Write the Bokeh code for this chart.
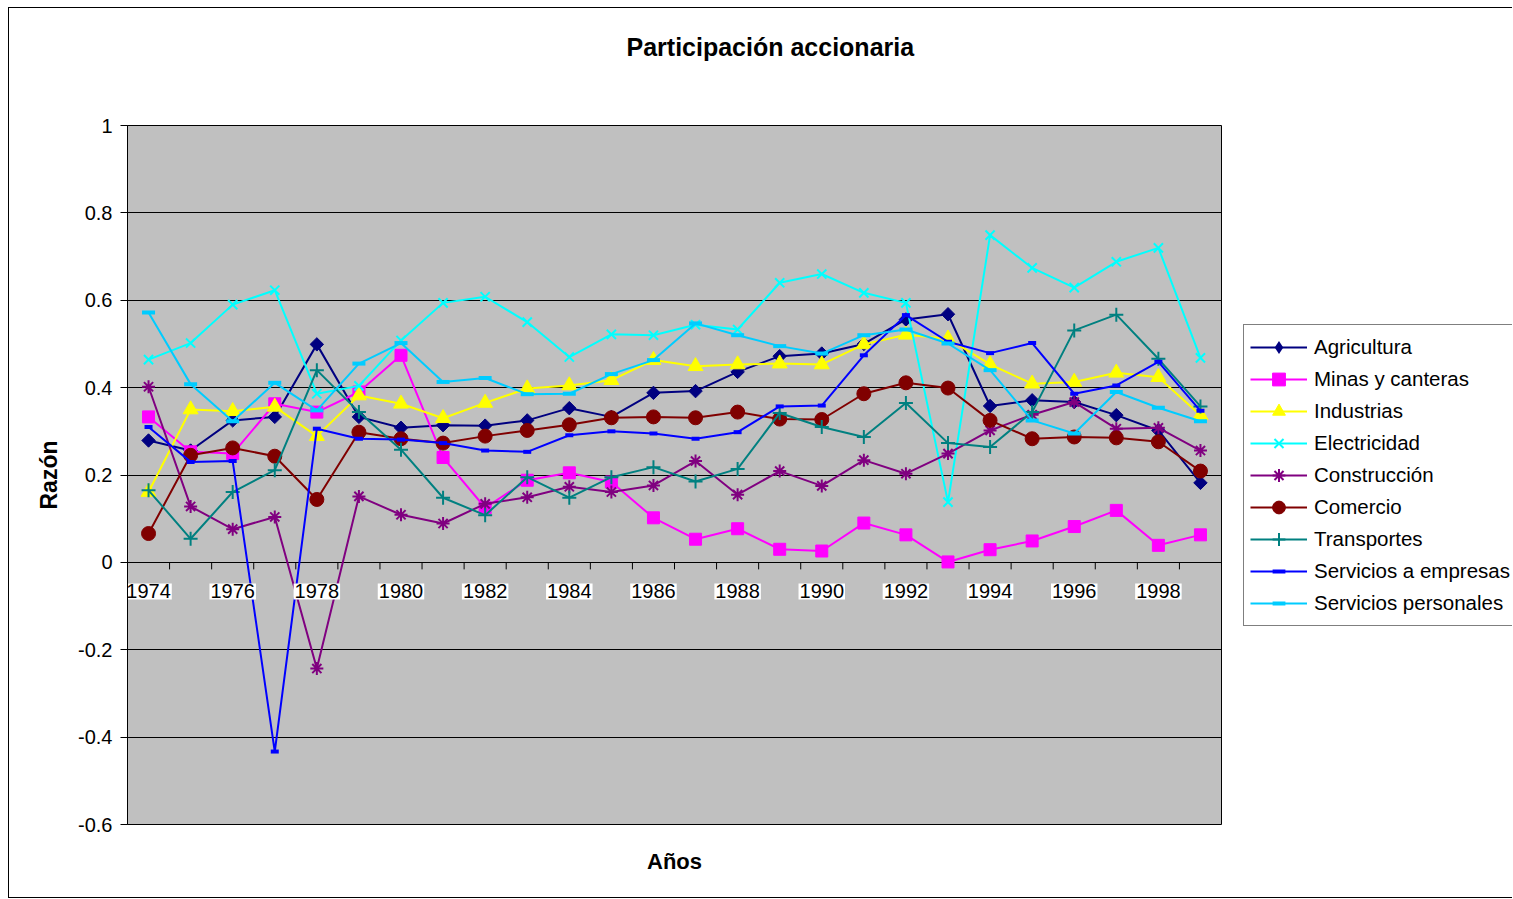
import math
from bokeh.plotting import figure
from bokeh.models import (ColumnDataSource, FixedTicker, CustomJSTickFormatter,
                          Legend, LegendItem, Title)
from bokeh.core.properties import value
from bokeh.embed import file_html
from bokeh.resources import INLINE

# ---------------- data ----------------
years = [1974, 1975, 1976, 1977, 1978, 1979, 1980, 1981, 1982, 1983, 1984, 1985, 1986,
         1987, 1988, 1989, 1990, 1991, 1992, 1993, 1994, 1995, 1996, 1997, 1998, 1999]
x_tick_labels = ["1974", "1976", "1978", "1980", "1982", "1984", "1986",
                 "1988", "1990", "1992", "1994", "1996", "1998"]
y_ticks = [-0.6, -0.4, -0.2, 0.0, 0.2, 0.4, 0.6, 0.8, 1.0]

agricultura = [0.279, 0.256, 0.325, 0.333, 0.499, 0.333, 0.308, 0.314, 0.313, 0.325, 0.353, 0.333, 0.388,
               0.392, 0.436, 0.472, 0.478, 0.500, 0.556, 0.568, 0.358, 0.371, 0.367, 0.337, 0.302, 0.182]
minas = [0.333, 0.253, 0.249, 0.363, 0.344, 0.390, 0.474, 0.240, 0.125, 0.188, 0.205, 0.184, 0.102,
         0.053, 0.077, 0.030, 0.026, 0.090, 0.063, 0.001, 0.029, 0.049, 0.082, 0.119, 0.039, 0.063]
industrias = [0.161, 0.350, 0.346, 0.356, 0.289, 0.382, 0.363, 0.330, 0.365, 0.398, 0.405, 0.417, 0.463,
              0.449, 0.453, 0.455, 0.453, 0.499, 0.521, 0.512, 0.453, 0.409, 0.413, 0.434, 0.424, 0.337]
electricidad = [0.464, 0.502, 0.590, 0.623, 0.386, 0.404, 0.508, 0.594, 0.608, 0.550, 0.470, 0.522, 0.520,
                0.544, 0.533, 0.640, 0.660, 0.617, 0.594, 0.138, 0.749, 0.674, 0.629, 0.688, 0.720, 0.468]
construccion = [0.402, 0.128, 0.076, 0.104, -0.243, 0.151, 0.109, 0.089, 0.134, 0.149, 0.173, 0.161, 0.176,
                0.232, 0.155, 0.209, 0.175, 0.234, 0.203, 0.249, 0.302, 0.338, 0.367, 0.306, 0.308, 0.256]
comercio = [0.066, 0.245, 0.262, 0.243, 0.144, 0.298, 0.283, 0.273, 0.289, 0.302, 0.315, 0.331, 0.333,
            0.331, 0.344, 0.328, 0.327, 0.386, 0.411, 0.399, 0.325, 0.283, 0.287, 0.285, 0.276, 0.209]
transportes = [0.165, 0.054, 0.161, 0.211, 0.440, 0.344, 0.258, 0.148, 0.108, 0.195, 0.148, 0.195, 0.218,
               0.185, 0.214, 0.342, 0.310, 0.287, 0.365, 0.273, 0.264, 0.344, 0.531, 0.567, 0.466, 0.357]
serv_empresas = [0.310, 0.230, 0.232, -0.433, 0.306, 0.283, 0.281, 0.273, 0.256, 0.253, 0.291, 0.300, 0.295,
                 0.283, 0.298, 0.357, 0.359, 0.474, 0.566, 0.505, 0.479, 0.502, 0.386, 0.405, 0.459, 0.347]
serv_personales = [0.572, 0.408, 0.323, 0.411, 0.348, 0.455, 0.502, 0.413, 0.422, 0.385, 0.386, 0.431, 0.463,
                   0.547, 0.520, 0.495, 0.478, 0.520, 0.533, 0.501, 0.440, 0.325, 0.295, 0.390, 0.354, 0.323]

series_names = ["Agricultura", "Minas y canteras", "Industrias", "Electricidad", "Construcción",
                "Comercio", "Transportes", "Servicios a empresas", "Servicios personales"]
series_values = [agricultura, minas, industrias, electricidad, construccion,
                 comercio, transportes, serv_empresas, serv_personales]

# ---------------- styles ----------------
FONT = "Liberation Sans"
colors = ["#000080", "#FF00FF", "#FFFF00", "#00FFFF", "#800080",
          "#800000", "#008080", "#0000FF", "#00CCFF"]
markers = ["square", "square", "triangle", "x", "asterisk",
           "circle", "cross", "dash", "dash"]
legend_markers = ["diamond", "square", "triangle", "x", "asterisk",
                  "circle", "cross", "dash", "dash"]
sizes = [9.5, 12, 15, 13, 13, 14, 14, 8, 13]
angles = [math.pi / 4, 0, 0, 0, 0, 0, 0, 0, 0]
mk_line_w = [1, 1, 1, 2, 2, 1, 2, 4, 4]

n = len(years)
y_min, y_max = y_ticks[0], y_ticks[-1]
FRAME_W, FRAME_H = 1094, 699

p = figure(frame_width=FRAME_W, frame_height=FRAME_H, x_range=(0, n), y_range=(y_min, y_max),
           output_backend="svg", toolbar_location=None,
           min_border_left=118, min_border_right=0, min_border_top=117, min_border_bottom=73,
           background_fill_color="#C0C0C0", border_fill_color="white",
           outline_line_color="black", outline_line_width=1)
p.styles = {"margin-left": "8px", "margin-top": "7px",
            "border-left": "1px solid black", "border-top": "1px solid black",
            "border-bottom": "1px solid black",
            "max-width": "1504px", "overflow": "hidden"}

# spacer between frame and title (inner above panel)
p.add_layout(Title(text=" ", text_font_size="1px", standoff=62), "above")

# title (centred over the whole chart area, not the frame)
p.title.text = "Participación accionaria"
p.title.align = "left"
p.title.offset = 499
p.title.standoff = 0
p.title.text_font = FONT
p.title.text_font_size = "25px"
p.title.text_font_style = "bold"
p.title.text_color = "black"

# grid
p.xgrid.visible = False
p.ygrid.ticker = FixedTicker(ticks=y_ticks)
p.ygrid.grid_line_color = "black"
p.ygrid.grid_line_width = 1

# y axis
p.yaxis.ticker = FixedTicker(ticks=y_ticks)
p.yaxis.formatter = CustomJSTickFormatter(code="return (Math.round(tick*10)/10).toString();")
p.yaxis.major_tick_out = 7
p.yaxis.major_tick_in = 0
p.yaxis.minor_tick_line_color = None
p.yaxis.axis_line_color = "black"
p.yaxis.major_tick_line_color = "black"
p.yaxis.major_label_text_font = FONT
p.yaxis.major_label_text_font_size = "20px"
p.yaxis.major_label_text_color = "black"
p.yaxis.major_label_standoff = 8
p.yaxis.axis_label = "Razón"
p.yaxis.axis_label_text_font = FONT
p.yaxis.axis_label_text_font_size = "23px"
p.yaxis.axis_label_text_font_style = "bold"
p.yaxis.axis_label_text_color = "black"
p.yaxis.axis_label_standoff = 13

# x axis (only carries the title "Años"; category labels drawn at y = 0)
p.xaxis.ticker = FixedTicker(ticks=[])
p.xaxis.major_tick_out = 0
p.xaxis.major_tick_in = 0
p.xaxis.minor_tick_line_color = None
p.xaxis.axis_line_color = None
p.xaxis.major_label_standoff = 0
p.xaxis.axis_label = "Años"
p.xaxis.axis_label_text_font = FONT
p.xaxis.axis_label_text_font_size = "22px"
p.xaxis.axis_label_text_font_style = "bold"
p.xaxis.axis_label_text_color = "black"
p.xaxis.axis_label_standoff = 24

# category axis crossing at zero: tick marks between categories
tick_dy = 7 * (y_max - y_min) / FRAME_H
bounds = list(range(n + 1))
p.segment(x0=bounds, y0=[0] * len(bounds), x1=bounds, y1=[-tick_dy] * len(bounds),
          line_color="black", line_width=1)

xs = [i + 0.5 for i in range(n)]

items = []
for name, vals, col, mk, lmk, sz, ang, mlw in zip(series_names, series_values, colors, markers,
                                                  legend_markers, sizes, angles, mk_line_w):
    src = ColumnDataSource(dict(x=xs, y=vals))
    lr = p.line("x", "y", source=src, line_color=col, line_width=2)
    sr = p.scatter("x", "y", source=src, marker=mk, size=sz, angle=ang,
                   fill_color=col, line_color=col, line_width=mlw)
    if lmk != mk:
        # key swatch only: zero-size in the plot, drawn as a diamond in the legend
        kr = p.scatter("x", "y", source=src, marker=lmk, size=0,
                       fill_color=col, line_color=col, line_width=0)
        items.append(LegendItem(label=name, renderers=[lr, kr]))
    else:
        items.append(LegendItem(label=name, renderers=[lr, sr]))

# category labels at y = 0
lab_x = [years.index(int(t)) + 0.5 for t in x_tick_labels]
lab_src = ColumnDataSource(dict(x=lab_x, y=[0] * len(lab_x), text=x_tick_labels))
p.text("x", "y", text="text", source=lab_src, y_offset=29,
       text_align="center", text_baseline="middle",
       text_font=value(FONT), text_font_size="20px", text_color="black",
       background_fill_color="white", background_fill_alpha=1.0, padding=1)

legend = Legend(items=items, location="center_left",
                border_line_color="black", border_line_width=1,
                background_fill_color="white", background_fill_alpha=1,
                label_text_font=FONT, label_text_font_size="20.5px", label_text_color="black",
                glyph_width=57, glyph_height=32, label_height=32, label_width=215, spacing=0,
                padding=6, label_standoff=7, margin=22)
p.add_layout(legend, "right")

open("out.html", "w").write(file_html(p, INLINE))
